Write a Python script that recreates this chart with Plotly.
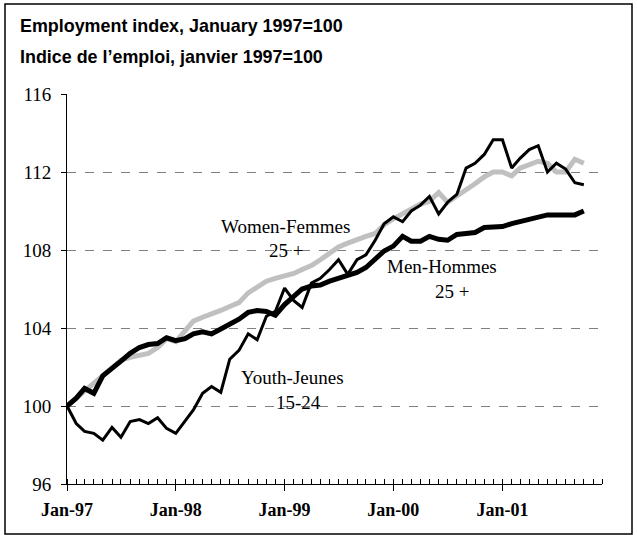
import pandas as pd
import plotly.graph_objects as go

start_month = "1997-01-01"
tick_labels = ["Jan-97", "Jan-98", "Jan-99", "Jan-00", "Jan-01"]

women = [100.0, 100.4, 100.8, 101.2, 101.6, 102.0, 102.35, 102.5, 102.6, 102.7,
         103.0, 103.45, 103.3, 103.9, 104.35, 104.55, 104.7, 104.9, 105.1, 105.3,
         105.8, 106.1, 106.4, 106.55, 106.65, 106.8, 107.0, 107.2, 107.5, 107.8,
         108.15, 108.35, 108.55, 108.7, 108.85, 109.3, 109.6, 109.85, 110.1, 110.35,
         110.5, 110.95, 110.45, 110.75, 111.05, 111.4, 111.75, 112.0, 112.0, 111.8,
         112.2, 112.35, 112.55, 112.45, 112.0, 112.0, 112.65, 112.45]

men = [100.0, 100.4, 100.9, 100.65, 101.55, 101.9, 102.3, 102.7, 103.0, 103.15,
       103.2, 103.5, 103.35, 103.45, 103.7, 103.8, 103.7, 103.95, 104.2, 104.45,
       104.8, 104.9, 104.85, 104.65, 105.2, 105.6, 106.0, 106.15, 106.2, 106.4,
       106.55, 106.7, 106.85, 107.1, 107.5, 107.95, 108.2, 108.7, 108.45, 108.45,
       108.7, 108.55, 108.5, 108.8, 108.85, 108.9, 109.15, 109.2, 109.2, 109.35,
       109.45, 109.6, 109.65, 109.8, 109.8, 109.8, 109.8, 110.0]

youth = [100.0, 99.1, 98.7, 98.6, 98.25, 98.9, 98.4, 99.2, 99.3, 99.1,
         99.4, 98.85, 98.6, 99.2, 99.8, 100.65, 101.0, 100.7, 102.4, 102.85,
         103.7, 103.4, 104.6, 104.85, 106.05, 105.4, 105.05, 106.3, 106.55, 107.0,
         107.5, 106.75, 107.5, 107.75, 108.5, 109.35, 109.7, 109.45, 110.0, 110.3,
         110.75, 109.85, 110.45, 110.85, 112.2, 112.45, 112.9, 113.65, 113.65, 112.2,
         112.7, 113.15, 113.35, 112.0, 112.45, 112.15, 111.45, 111.35]

months = pd.date_range(start_month, periods=len(women), freq="MS")

W, H = 637, 535
L, R, T, B = 67, 35, 94, 51
pw, ph = W - L - R, H - T - B


def px(x):
    return (x - L) / pw


def py(y):
    return (H - B - y) / ph


fig = go.Figure()
fig.add_trace(go.Scatter(x=months, y=women, mode="lines", name="Women-Femmes 25 +",
                         line=dict(color="#c0c0c0", width=5)))
fig.add_trace(go.Scatter(x=months, y=men, mode="lines", name="Men-Hommes 25 +",
                         line=dict(color="#000000", width=5)))
fig.add_trace(go.Scatter(x=months, y=youth, mode="lines", name="Youth-Jeunes 15-24",
                         line=dict(color="#000000", width=3)))

tickvals = [f"{1997 + i}-01-01" for i in range(len(tick_labels))]

fig.update_xaxes(
    range=["1997-01-01", "2001-12-01"],
    tickvals=tickvals, ticktext=tick_labels,
    ticks="outside", ticklen=6, tickcolor="black", tickwidth=1,
    showline=True, linecolor="black", linewidth=1,
    showgrid=False, zeroline=False, ticklabelstandoff=3,
    tickfont=dict(family="Liberation Serif", size=18, color="black", weight="bold"),
    minor=dict(dtick="M1", tick0="1997-01-01", ticks="inside", ticklen=5,
               tickcolor="black", tickwidth=1, showgrid=False),
)
fig.update_yaxes(
    range=[96, 116], dtick=4, tick0=96,
    ticks="outside", ticklen=5, tickcolor="black", tickwidth=1,
    showline=True, linecolor="black", linewidth=1,
    showgrid=True, gridcolor="#808080", griddash="dash", gridwidth=1,
    zeroline=False, ticklabelstandoff=6,
    tickfont=dict(family="Liberation Serif", size=19, color="black"),
)

title_font = dict(family="Liberation Sans", size=17.9, color="black", weight="bold")
anns = [
    dict(text="Employment index, January 1997=100", x=px(18), y=py(26), font=title_font,
         xanchor="left", yanchor="middle"),
    dict(text="Indice de l\u2019emploi, janvier 1997=100", x=px(18), y=py(57), font=title_font,
         xanchor="left", yanchor="middle"),
]
lab_font = dict(family="Liberation Serif", size=19, color="black")
for text, xx, yy in [("Women-Femmes", 285, 226), ("25 +", 286, 250),
                     ("Men-Hommes", 442, 266), ("25 +", 452, 291),
                     ("Youth-Jeunes", 292, 377), ("15-24", 298, 402)]:
    anns.append(dict(text=text, x=px(xx), y=py(yy), font=lab_font,
                     xanchor="center", yanchor="middle"))
for a in anns:
    a.update(xref="paper", yref="paper", showarrow=False)

fig.update_layout(
    width=W, height=H,
    margin=dict(l=L, r=R, t=T, b=B, pad=0),
    paper_bgcolor="white", plot_bgcolor="white",
    showlegend=False,
    annotations=anns,
    shapes=[dict(type="rect", xref="paper", yref="paper",
                 x0=px(5), x1=px(632), y0=py(534), y1=py(4),
                 line=dict(color="black", width=1.5), fillcolor="rgba(0,0,0,0)")],
)

fig.write_html("out.html", config={"displayModeBar": False},
               post_script="document.body.style.margin='0';document.body.style.padding='0';")
